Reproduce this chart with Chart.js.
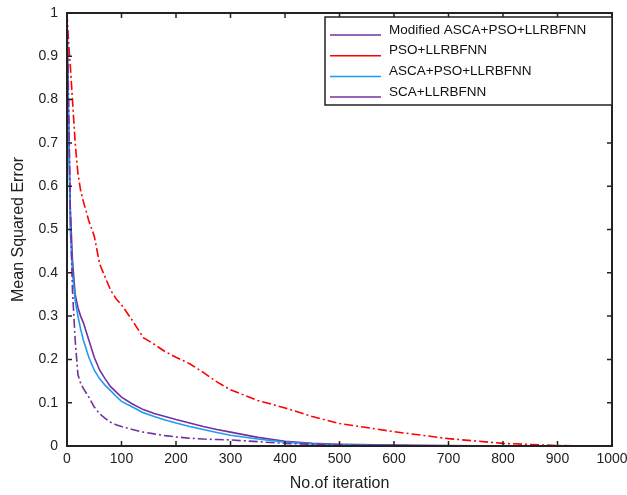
<!DOCTYPE html>
<html>
<head>
<meta charset="utf-8">
<script src="https://cdn.jsdelivr.net/npm/chart.js@4.4.0/dist/chart.umd.min.js"></script>
<style>
  body { margin: 0; background: #fff; }
  #wrap { width: 627px; height: 495px; }
</style>
</head>
<body>
<div id="wrap"><canvas id="myChart" width="627" height="495"></canvas></div>
<script>
var iterations = [0, 3, 6, 10, 15, 20, 25, 30, 40, 50, 60, 70, 80, 90, 100, 120, 140, 160, 180, 200, 225, 250, 275, 300, 350, 400, 450, 500, 600, 700, 800, 900, 1000];

var seriesNames = ["Modified ASCA+PSO+LLRBFNN", "PSO+LLRBFNN", "ASCA+PSO+LLRBFNN", "SCA+LLRBFNN"];

var modAsca = [1, 0.8, 0.55, 0.36, 0.245, 0.165, 0.145, 0.133, 0.113, 0.09, 0.074, 0.064, 0.055, 0.049, 0.045, 0.038, 0.032, 0.028, 0.024, 0.021, 0.018, 0.016, 0.015, 0.014, 0.01, 0.006, 0.004, 0.002, 0.001, 0, 0, 0, 0];
var pso = [1, 0.93, 0.88, 0.8, 0.7, 0.63, 0.59, 0.565, 0.52, 0.485, 0.42, 0.39, 0.36, 0.34, 0.326, 0.29, 0.25, 0.235, 0.218, 0.205, 0.19, 0.17, 0.148, 0.13, 0.105, 0.088, 0.068, 0.052, 0.033, 0.017, 0.006, 0.001, 0];
var asca = [1, 0.72, 0.5, 0.4, 0.337, 0.3, 0.27, 0.245, 0.205, 0.175, 0.155, 0.14, 0.128, 0.115, 0.103, 0.09, 0.077, 0.068, 0.06, 0.053, 0.045, 0.038, 0.031, 0.025, 0.016, 0.009, 0.005, 0.003, 0.001, 0, 0, 0, 0];
var sca = [1, 0.75, 0.55, 0.43, 0.35, 0.32, 0.3, 0.285, 0.245, 0.205, 0.175, 0.155, 0.137, 0.125, 0.113, 0.097, 0.084, 0.075, 0.068, 0.061, 0.053, 0.045, 0.038, 0.032, 0.02, 0.011, 0.006, 0.004, 0.002, 0.001, 0, 0, 0];

var xTicks = [0, 100, 200, 300, 400, 500, 600, 700, 800, 900, 1000];
var yTicks = [0, 0.1, 0.2, 0.3, 0.4, 0.5, 0.6, 0.7, 0.8, 0.9, 1];

var FONT = "'Liberation Sans', Arial, sans-serif";

function pts(vals) {
  return iterations.map(function (it, i) { return { x: it, y: vals[i] }; });
}

// box around the plot with inward ticks on all four sides
var boxPlugin = {
  id: "boxTicks",
  afterDatasetsDraw: function (chart) {
    var ctx = chart.ctx;
    var a = chart.chartArea;
    var xs = chart.scales.x, ys = chart.scales.y;
    ctx.save();
    ctx.strokeStyle = "#222";
    ctx.lineWidth = 2;
    ctx.strokeRect(a.left, a.top, a.right - a.left, a.bottom - a.top);
    ctx.lineWidth = 1.5;
    ctx.beginPath();
    xTicks.forEach(function (t) {
      var px = xs.getPixelForValue(t);
      ctx.moveTo(px, a.bottom); ctx.lineTo(px, a.bottom - 5);
      ctx.moveTo(px, a.top); ctx.lineTo(px, a.top + 5);
    });
    yTicks.forEach(function (t) {
      var py = ys.getPixelForValue(t);
      ctx.moveTo(a.left, py); ctx.lineTo(a.left + 5, py);
      ctx.moveTo(a.right, py); ctx.lineTo(a.right - 5, py);
    });
    ctx.stroke();

    // legend box (all entries drawn with solid lines, like the original)
    var lx = 325, ly = 17, lw = a.right - 325, lh = 88;
    ctx.fillStyle = "#fff";
    ctx.fillRect(lx, ly, lw, lh);
    ctx.strokeStyle = "#222";
    ctx.lineWidth = 1.5;
    ctx.strokeRect(lx, ly, lw, lh);
    ctx.font = "13.5px " + FONT;
    ctx.textBaseline = "middle";
    chart.data.datasets.forEach(function (ds, i) {
      var yy = ly + 13 + i * 20.7;
      ctx.strokeStyle = ds.borderColor;
      ctx.lineWidth = 1.5;
      ctx.setLineDash([]);
      ctx.beginPath();
      ctx.moveTo(330, yy + 5); ctx.lineTo(381, yy + 5);
      ctx.stroke();
      ctx.fillStyle = "#111";
      ctx.fillText(ds.label, 389, yy);
    });
    ctx.restore();
  }
};

var ctx = document.getElementById("myChart").getContext("2d");
new Chart(ctx, {
  type: "line",
  data: {
    datasets: [
      { label: seriesNames[0], data: pts(modAsca), borderColor: "#7330a0", borderDash: [9, 3, 2, 3] },
      { label: seriesNames[1], data: pts(pso), borderColor: "#ff0000", borderDash: [9, 3, 2, 3] },
      { label: seriesNames[2], data: pts(asca), borderColor: "#1f9bf0" },
      { label: seriesNames[3], data: pts(sca), borderColor: "#7330a0" }
    ]
  },
  options: {
    responsive: false,
    animation: false,
    layout: { padding: { top: 13, right: 15, left: 0, bottom: 0 } },
    elements: {
      point: { radius: 0 },
      line: { borderWidth: 1.6, tension: 0, fill: false }
    },
    plugins: {
      legend: { display: false },
      tooltip: { enabled: false }
    },
    scales: {
      x: {
        type: "linear",
        min: 0,
        max: 1000,
        afterBuildTicks: function (s) { s.ticks = xTicks.map(function (v) { return { value: v }; }); },
        afterFit: function (s) { s.height = 49; s.paddingRight = 0; s.paddingLeft = 0; },
        grid: { display: false, drawTicks: false },
        border: { display: false },
        ticks: { color: "#222", padding: 5, font: { family: FONT, size: 14 }, callback: function (v) { return String(v); } },
        title: { display: true, text: "No.of iteration", color: "#222", padding: { top: 0, bottom: 2 }, font: { family: FONT, size: 16 } }
      },
      y: {
        type: "linear",
        min: 0,
        max: 1,
        afterBuildTicks: function (s) { s.ticks = yTicks.map(function (v) { return { value: v }; }); },
        afterFit: function (s) { s.width = 67; s.paddingTop = 0; s.paddingBottom = 0; },
        grid: { display: false, drawTicks: false },
        border: { display: false },
        ticks: { color: "#222", padding: 9, font: { family: FONT, size: 14 }, callback: function (v) { return String(v); } },
        title: { display: true, text: "Mean Squared Error", color: "#222", padding: { top: 9, bottom: 0 }, font: { family: FONT, size: 16 } }
      }
    }
  },
  plugins: [boxPlugin]
});
</script>
</body>
</html>
